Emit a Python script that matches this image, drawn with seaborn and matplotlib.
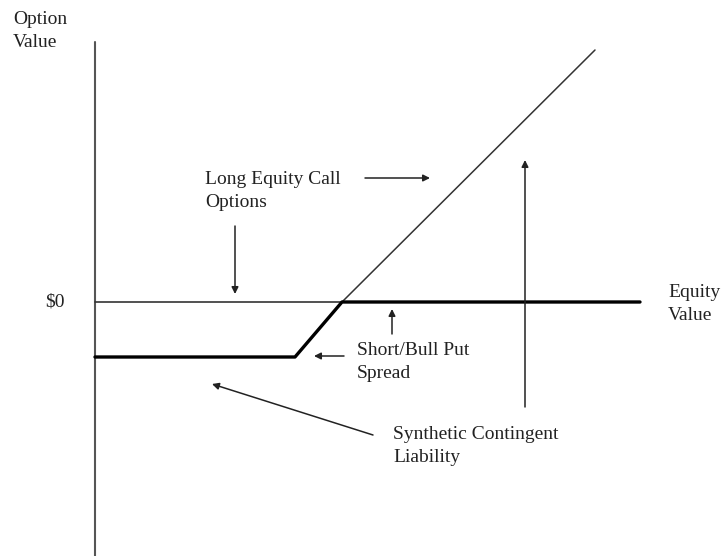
import pandas as pd
import matplotlib
matplotlib.use('Agg')
import matplotlib.pyplot as plt
import seaborn as sns

# payoff values (x = equity value, y = option value)
spread_x = [0, 40, 49.4, 109]
spread_y = [-11, -11, 0, 0]
call_x = [49.4, 100]
call_y = [0, 50.4]
zero_x = [0, 109]
zero_y = [0, 0]
axis_x = [0, 0]
axis_y = [-51, 52]

sns.set_theme(style='white')
plt.rcParams['font.family'] = ['Liberation Serif', 'DejaVu Serif']

def px(x, y):
    # pixel position of the reference -> data coords
    return ((x - 95) / 5, (302 - y) / 5)

fig = plt.figure(figsize=(7.21, 5.56), dpi=100)
ax = fig.add_axes([0, 0, 1, 1])
ax.set_xlim(-19, 125.2)
ax.set_ylim(-50.8, 60.4)
ax.axis('off')

sns.lineplot(x=axis_x, y=axis_y, ax=ax, color='#555555', lw=1.5, sort=False, estimator=None)
sns.lineplot(x=zero_x, y=zero_y, ax=ax, color='#333333', lw=1.2, sort=False, estimator=None)
sns.lineplot(x=call_x, y=call_y, ax=ax, color='#333333', lw=1.1, sort=False, estimator=None)
sns.lineplot(x=spread_x, y=spread_y, ax=ax, color='black', lw=2.4, sort=False, estimator=None)

tc = '#222222'
fs = 14
ax.text(*px(13, 31), 'Option\nValue', fontsize=fs, color=tc, va='center', ha='left', linespacing=1.45)
ax.text(*px(55, 302), '$0', fontsize=fs, color=tc, va='center', ha='center')
ax.text(*px(668, 304), 'Equity\nValue', fontsize=fs, color=tc, va='center', ha='left', linespacing=1.45)
ax.text(*px(205, 191), 'Long Equity Call\nOptions', fontsize=fs, color=tc, va='center', ha='left', linespacing=1.45)
ax.text(*px(357, 362), 'Short/Bull Put\nSpread', fontsize=fs, color=tc, va='center', ha='left', linespacing=1.45)
ax.text(*px(393, 446), 'Synthetic Contingent\nLiability', fontsize=fs, color=tc, va='center', ha='left', linespacing=1.45)

arrows = [((365, 178), (430, 178)),
          ((235, 226), (235, 294)),
          ((392, 334), (392, 309)),
          ((344, 356), (314, 356)),
          ((373, 435), (212, 384)),
          ((525, 407), (525, 160))]
for tail, head in arrows:
    ax.annotate('', xy=px(*head), xytext=px(*tail),
                arrowprops=dict(arrowstyle='-|>', color='#222222', lw=1.1,
                                mutation_scale=10, shrinkA=0, shrinkB=0))

fig.savefig('out.png', dpi=100, facecolor='white')
